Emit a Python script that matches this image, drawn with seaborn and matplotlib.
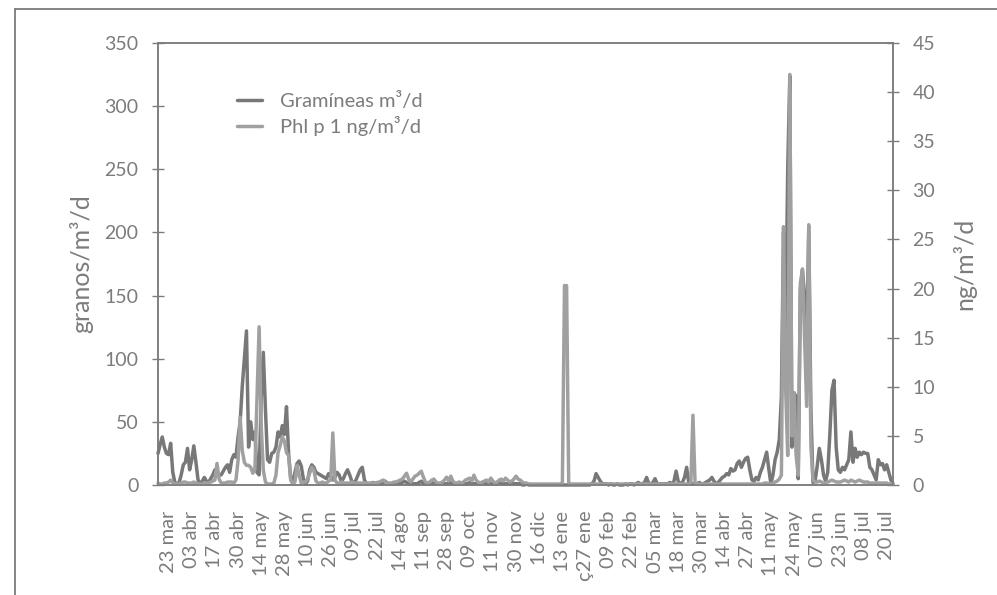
import pandas as pd
import matplotlib.pyplot as plt
import seaborn as sns
from matplotlib.lines import Line2D

# %%
# etiquetas del eje x (una cada 11 dias de muestreo)
fechas = ["23 mar", "03 abr", "17 abr", "30 abr", "14 may", "28 may", "10 jun",
          "26 jun", "09 jul", "22 jul", "14 ago", "11 sep", "28 sep", "09 oct",
          "11 nov", "30 nov", "16 dic", "13 ene", "ç27 ene", "09 feb", "22 feb",
          "05 mar", "18 mar", "30 mar", "14 abr", "27 abr", "11 may", "24 may",
          "07 jun", "23 jun", "08 jul", "20 jul"]

# granos/m3/d
gramineas = [
    25, 32, 38, 30, 25, 24, 33, 10, 2, 1,
    2, 8, 16, 18, 29, 12, 20, 31, 18, 4,
    1, 3, 6, 3, 2, 5, 8, 12, 10, 8,
    8, 11, 14, 16, 10, 20, 24, 22, 38, 50,
    78, 100, 122, 30, 50, 36, 42, 10, 8, 70,
    105, 60, 20, 18, 25, 26, 30, 42, 38, 47,
    40, 62, 25, 5, 2, 10, 17, 19, 15, 5,
    1, 3, 12, 16, 14, 10, 9, 8, 7, 6,
    5, 9, 7, 4, 6, 10, 8, 3, 5, 9,
    12, 8, 3, 1, 4, 8, 12, 14, 4, 1,
    1, 1, 2, 1, 2, 1, 1, 2, 3, 1,
    1, 1, 1, 2, 1, 1, 2, 3, 2, 1,
    2, 1, 1, 1, 2, 3, 1, 1, 1, 1,
    2, 1, 1, 1, 1, 2, 1, 1, 1, 2,
    1, 1, 1, 2, 1, 1, 1, 1, 2, 1,
    1, 1, 1, 1, 2, 1, 1, 1, 1, 1,
    1, 1, 2, 1, 1, 1, 1, 1, 2, 1,
    1, 1, 1, 0, 0, 1, 0, 0, 0, 0,
    0, 0, 0, 0, 0, 0, 0, 0, 0, 0,
    0, 0, 0, 0, 0, 0, 0, 0, 0, 0,
    0, 0, 0, 0, 0, 0, 1, 3, 9, 6,
    3, 1, 1, 1, 0, 1, 0, 0, 1, 0,
    0, 0, 1, 0, 1, 1, 0, 1, 2, 1,
    1, 2, 6, 1, 1, 2, 5, 1, 1, 1,
    1, 1, 1, 2, 1, 3, 11, 3, 1, 2,
    6, 14, 2, 1, 1, 1, 1, 2, 1, 1,
    2, 3, 4, 6, 3, 1, 2, 4, 6, 7,
    9, 8, 13, 11, 12, 17, 19, 14, 18, 21,
    22, 12, 4, 3, 6, 4, 10, 14, 20, 26,
    13, 1, 8, 20, 26, 36, 70, 200, 120, 250,
    324, 30, 73, 70, 5, 155, 170, 150, 110, 205,
    60, 2, 3, 15, 29, 20, 8, 3, 10, 40,
    75, 83, 30, 12, 10, 14, 12, 16, 20, 42,
    18, 29, 22, 26, 24, 26, 25, 25, 14, 12,
    8, 4, 20, 16, 17, 12, 16, 10, 4, 1,
]

# Phl p 1 ng/m3/d
phl_p1 = [
    0.2, 0.1, 0.1, 0.2, 0.2, 0.3, 0.5, 0.2, 0.1, 0.1,
    0.1, 0.2, 0.3, 0.3, 0.2, 0.2, 0.2, 0.3, 0.2, 0.1,
    0.1, 0.1, 0.2, 0.2, 0.2, 0.3, 0.4, 0.5, 2.2, 0.6,
    0.2, 0.2, 0.2, 0.3, 0.3, 0.3, 0.2, 0.5, 2.5, 6.9,
    3.5, 2.3, 2.0, 2.0, 1.8, 1.2, 1.6, 9.0, 16.1, 6.0,
    1.5, 0.3, 0.1, 0.1, 0.1, 0.2, 1.0, 3.3, 4.0, 4.9,
    4.5, 3.3, 3.0, 0.5, 0.1, 0.3, 2.0, 1.0, 0.2, 0.3,
    0.3, 0.6, 1.2, 1.8, 1.5, 0.4, 0.2, 0.2, 0.3, 0.2,
    0.2, 0.4, 0.5, 5.3, 0.5, 0.2, 0.2, 0.3, 0.2, 0.2,
    0.2, 0.2, 0.3, 0.2, 0.2, 0.2, 0.2, 0.2, 0.2, 0.2,
    0.2, 0.2, 0.2, 0.2, 0.2, 0.3, 0.4, 0.5, 0.3, 0.2,
    0.2, 0.2, 0.3, 0.3, 0.4, 0.5, 0.6, 0.9, 1.2, 0.6,
    0.3, 0.6, 0.9, 1.0, 1.2, 1.4, 0.8, 0.3, 0.2, 0.3,
    0.5, 0.6, 0.3, 0.2, 0.2, 0.3, 0.5, 0.8, 0.4, 0.9,
    0.4, 0.2, 0.2, 0.3, 0.2, 0.3, 0.5, 0.6, 0.7, 0.4,
    1.0, 0.5, 0.3, 0.2, 0.3, 0.4, 0.5, 0.3, 0.7, 0.4,
    0.2, 0.3, 0.5, 0.6, 0.4, 0.7, 0.5, 0.3, 0.4, 0.6,
    0.9, 0.6, 0.5, 0.3, 0.2, 0.2, 0.1, 0.1, 0.1, 0.1,
    0.1, 0.1, 0.1, 0.1, 0.1, 0.1, 0.1, 0.1, 0.1, 0.1,
    0.1, 0.1, 0.2, 20.3, 20.3, 0.2, 0.1, 0.1, 0.1, 0.1,
    0.1, 0.1, 0.1, 0.1, 0.1, 0.1, 0.1, 0.1, 0.1, 0.1,
    0.1, 0.1, 0.1, 0.1, 0.1, 0.1, 0.1, 0.1, 0.1, 0.1,
    0.1, 0.1, 0.1, 0.1, 0.1, 0.1, 0.1, 0.1, 0.1, 0.1,
    0.1, 0.1, 0.1, 0.1, 0.1, 0.1, 0.1, 0.1, 0.1, 0.1,
    0.1, 0.1, 0.1, 0.1, 0.1, 0.1, 0.1, 0.1, 0.1, 0.1,
    0.1, 0.1, 0.1, 0.2, 7.1, 0.2, 0.1, 0.1, 0.1, 0.1,
    0.1, 0.1, 0.1, 0.1, 0.1, 0.1, 0.1, 0.1, 0.1, 0.1,
    0.1, 0.1, 0.1, 0.1, 0.1, 0.1, 0.1, 0.1, 0.1, 0.1,
    0.1, 0.1, 0.1, 0.1, 0.1, 0.1, 0.1, 0.1, 0.2, 0.2,
    0.1, 0.1, 0.2, 0.3, 0.4, 0.6, 1.0, 26.3, 10.0, 3.0,
    41.8, 5.0, 9.4, 3.0, 1.0, 20.5, 22.0, 15.0, 8.0, 26.5,
    4.0, 0.5, 0.3, 0.3, 0.4, 0.3, 0.2, 0.2, 0.3, 0.4,
    0.5, 0.4, 0.3, 0.3, 0.3, 0.4, 0.5, 0.4, 0.3, 0.5,
    0.4, 0.3, 0.4, 0.5, 0.4, 0.3, 0.3, 0.3, 0.2, 0.2,
    0.2, 0.2, 0.2, 0.2, 0.2, 0.2, 0.2, 0.1, 0.1, 0.1,
]

df = pd.DataFrame({"dia": range(len(gramineas)),
                   "gramineas": gramineas,
                   "phl": phl_p1})

# %%
sns.set_theme(style="white")
plt.rcParams["font.family"] = ["Lato", "DejaVu Sans"]
gris = "#7c7c7c"
c_gram = "#787878"
c_phl = "#a0a0a0"

fig = plt.figure(figsize=(9.97, 5.95), dpi=100)
ax = fig.add_axes([0.1585, 0.1849, 0.7372, 0.7428])
ax2 = ax.twinx()

sns.lineplot(data=df, x="dia", y="gramineas", ax=ax, color=c_gram, lw=2.5,
             clip_on=False)
sns.lineplot(data=df, x="dia", y="phl", ax=ax2, color=c_phl, lw=2.5,
             clip_on=False)

n = len(gramineas)
ax.set_xlim(0, n - 1)
ax.set_ylim(0, 350)
ax2.set_ylim(0, 45)
ax.set_yticks(range(0, 351, 50))
ax2.set_yticks(range(0, 46, 5))

pos = [5 + 11 * k for k in range(len(fechas))]
ax.set_xticks(pos, fechas, rotation=90)
ax.set_xticks(range(n), minor=True)
ax.set_xlabel("")
ax.set_ylabel("granos/m³/d", fontsize=18, color=gris, labelpad=8)
ax2.set_ylabel("ng/m³/d", fontsize=18, color=gris, labelpad=12)

for a in (ax, ax2):
    for s in a.spines.values():
        s.set_color(gris)
        s.set_linewidth(1.1)
    a.tick_params(colors=gris, labelcolor=gris, labelsize=14, width=1,
                  length=8, direction="inout")
ax.tick_params(axis="x", which="major", length=5, pad=16, labelsize=14.5)
ax.tick_params(axis="x", which="minor", length=5, width=0.6,
               direction="inout", color=gris)
ax.tick_params(axis="y", pad=10)
ax2.tick_params(axis="y", pad=10)

handles = [Line2D([], [], color=c_gram, lw=2.5),
           Line2D([], [], color=c_phl, lw=2.5)]
ax2.legend(handles, ["Gramíneas m³/d", "Phl p 1 ng/m³/d"],
           loc="upper left", bbox_to_anchor=(0.083, 0.93), frameon=False,
           handlelength=1.25, handletextpad=0.9, labelspacing=0.3,
           fontsize=14.5, labelcolor=gris)

# marco de la pagina escaneada
fig.add_artist(Line2D([0.015, 0.015], [0, 0.985], transform=fig.transFigure,
                      color="#6f6f6f", lw=1.2))
fig.add_artist(Line2D([0.015, 1.0], [0.985, 0.985], transform=fig.transFigure,
                      color="#6f6f6f", lw=1.2))

fig.savefig("out.png", dpi=100)
